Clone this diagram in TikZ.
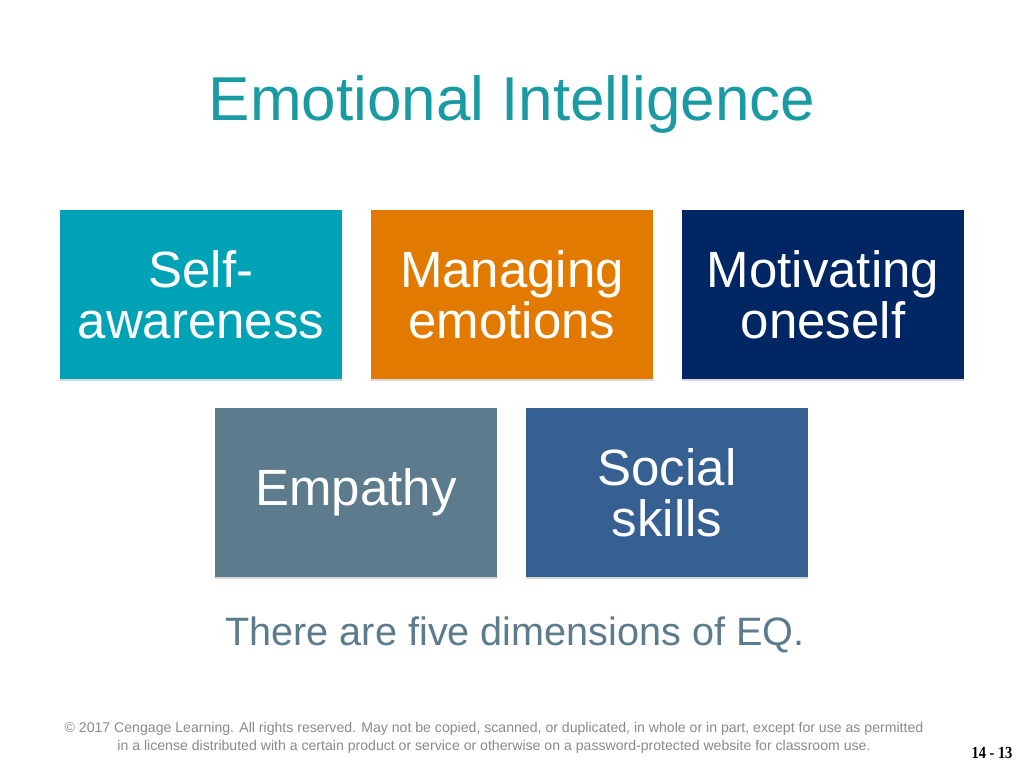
\documentclass[tikz,border=0pt]{standalone}
\usepackage{fontspec}
\setmainfont{Liberation Sans}
\newfontfamily\pagefont[FakeStretch=0.85]{Liberation Serif}
\usetikzlibrary{shadows}
\definecolor{titleteal}{HTML}{1A9BA3}
\definecolor{cselfaw}{HTML}{00A3B5}
\definecolor{cmanage}{HTML}{E37A00}
\definecolor{cmotiv}{HTML}{002663}
\definecolor{cempathy}{HTML}{5C7B8C}
\definecolor{csocial}{HTML}{356091}
\definecolor{subgray}{HTML}{5C7B8C}
\definecolor{footgray}{HTML}{8A8A8A}
\tikzset{
  dimbox/.style={minimum width=282pt, minimum height=169pt, inner sep=0pt,
    text=white, align=center, font=\fontsize{51}{51}\selectfont,
    drop shadow={opacity=0.3, shadow xshift=0pt, shadow yshift=-2pt}},
}
\begin{document}
\begin{tikzpicture}[x=1pt,y=-1pt]
\useasboundingbox[fill=white] (0,0) rectangle (1024,768);
\node[anchor=base, text=titleteal, font=\fontsize{62}{62}\selectfont, inner sep=0pt] (title) at (512,120) {Emotional Intelligence};
\node[dimbox, fill=cselfaw] (self) at (201,294.5) {Self-\\awareness};
\node[dimbox, fill=cmanage] (manage) at (512,294.5) {Managing\\emotions};
\node[dimbox, fill=cmotiv] (motiv) at (823,294.5) {Motivating\\oneself};
\node[dimbox, fill=cempathy] (empathy) at (356,492.5) {Empathy};
\node[dimbox, fill=csocial] (social) at (667,492.5) {Social\\skills};
\node[anchor=base, text=subgray, font=\fontsize{39.6}{40}\selectfont, inner sep=0pt] (sub) at (515,645) {There are five dimensions of EQ.};
\node[anchor=base, text=footgray, font=\fontsize{14.1}{18}\selectfont, inner sep=0pt, align=center] (foot) at (494,750) {\textcopyright{} 2017 Cengage Learning. All rights reserved. May not be copied, scanned, or duplicated, in whole or in part, except for use as permitted\\in a license distributed with a certain product or service or otherwise on a password-protected website for classroom use.};
\node[anchor=base, font=\pagefont\bfseries\fontsize{17}{17}\selectfont, inner sep=0pt] (page) at (992,758) {14 - 13};
\end{tikzpicture}
\end{document}
